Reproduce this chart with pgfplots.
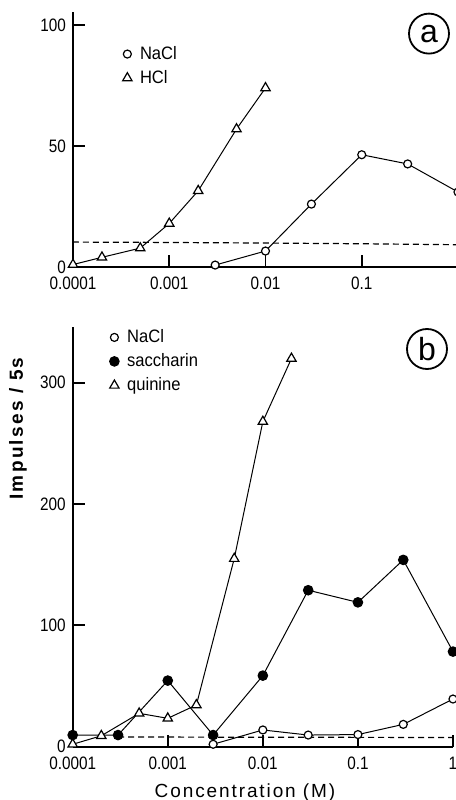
\documentclass[border=0pt]{standalone}
\usepackage{pgfplots}
\pgfplotsset{compat=1.18}
\usepackage{fontspec}
\setmainfont{Liberation Sans}
\newfontfamily\tickfont[FakeStretch=0.85]{Liberation Sans}
\newfontfamily\legfont[FakeStretch=0.92]{Liberation Sans}
\newfontfamily\xlabfont[LetterSpace=10]{Liberation Sans}
\newfontfamily\ylabfont[LetterSpace=12]{Liberation Sans}
\pgfplotsset{
  mynacl/.style={mark=*, mark size=2pt, mark options={fill=white, line width=0.6pt, solid}},
  mytri/.style={mark=triangle*, mark size=2.7pt, mark options={fill=white, line width=0.6pt, solid}},
  mysacc/.style={mark=*, mark size=2.4pt, mark options={fill=black, solid}},
  mybase/.style={dash pattern=on 3pt off 2pt, line width=0.6pt},
}
\begin{document}
\begin{tikzpicture}
% ---------- panel a ----------
\begin{semilogxaxis}[scale only axis, clip=false,
  at={(36.5pt,266.5pt)}, anchor=south west,
  width=192.5pt, height=127.5pt,
  xmin=1e-4, xmax=1, ymin=0, ymax=105.4,
  axis x line*=bottom, axis y line*=left,
  axis line style={line width=0.9pt},
  xtick={1e-4,1e-3,1e-2,1e-1,1},
  xticklabels={0.0001,0.001,0.01,0.1,{}},
  ytick={0,50,100},
  xminorticks=false,
  tick align=inside, major tick length=6pt,
  tick style={line width=0.9pt, black},
  tick label style={font=\tickfont\fontsize{9}{9}\selectfont},
  xticklabel style={yshift=-1.5pt},
  /pgf/number format/assume math mode=true,
  every axis plot/.append style={line width=0.5pt, black},
  legend image code/.code={\draw[#1, only marks] plot coordinates {(0pt,0pt)};},
  legend style={draw=none, fill=none, inner sep=0pt, row sep=2pt,
    font=\legfont\fontsize{9}{9}\selectfont,
    nodes={inner sep=1pt, text height=6.5pt, text depth=1.5pt},
    /tikz/every odd column/.append style={column sep=3pt},
    at={(axis description cs:0.128,0.788)}, anchor=west},
  legend cell align=left]
\addplot[mynacl] coordinates {(3e-3,0.8)(1e-2,6.6)(3e-2,26)(1e-1,46.4)(3e-1,42.6)(1,31)};
\addlegendentry{NaCl}
\addplot[mytri] coordinates {(1e-4,1)(2e-4,4)(5e-4,7.8)(1e-3,18)(2e-3,31.5)(5e-3,57)(1e-2,74)};
\addlegendentry{HCl}
\addplot[mybase, forget plot] coordinates {(1e-4,10.3)(5e-4,10.2)(1e-2,9.9)(1e-1,9.6)(1,9.2)};
\end{semilogxaxis}
% ---------- panel b ----------
\begin{semilogxaxis}[scale only axis, clip=false,
  at={(36.35pt,26.65pt)}, anchor=south west,
  width=190.15pt, height=209.85pt,
  xmin=1e-4, xmax=1, ymin=0, ymax=346,
  axis x line*=bottom, axis y line*=left,
  axis line style={line width=0.9pt},
  xtick={1e-4,1e-3,1e-2,1e-1,1},
  xticklabels={0.0001,0.001,0.01,0.1,1},
  ytick={0,100,200,300},
  xminorticks=false,
  tick align=inside, major tick length=6pt,
  tick style={line width=0.9pt, black},
  tick label style={font=\tickfont\fontsize{9}{9}\selectfont},
  xticklabel style={yshift=-1.5pt},
  /pgf/number format/assume math mode=true,
  every axis plot/.append style={line width=0.5pt, black},
  legend image code/.code={\draw[#1, only marks] plot coordinates {(0pt,0pt)};},
  legend style={draw=none, fill=none, inner sep=0pt, row sep=2pt,
    font=\legfont\fontsize{9}{9}\selectfont,
    nodes={inner sep=1pt, text height=6.5pt, text depth=1.5pt},
    /tikz/every odd column/.append style={column sep=3pt},
    at={(axis description cs:0.096,0.918)}, anchor=west},
  legend cell align=left]
\addplot[mynacl] coordinates {(3e-3,2)(1e-2,13.8)(3e-2,9.6)(1e-1,10)(3e-1,18.4)(1,39.3)};
\addlegendentry{NaCl}
\addplot[mysacc] coordinates {(1e-4,9.6)(3e-4,9.6)(1e-3,54.5)(3e-3,9.6)(1e-2,58.6)(3e-2,129)(1e-1,119)(3e-1,154)(1,78.4)};
\addlegendentry{saccharin}
\addplot[mytri] coordinates {(1e-4,2)(2e-4,9)(5e-4,27.5)(1e-3,23.4)(2e-3,34.4)(5e-3,155)(1e-2,268)(2e-2,320)};
\addlegendentry{quinine}
\addplot[mybase, forget plot] coordinates {(3e-4,8)(1e-2,7.8)(1,7.6)};
\end{semilogxaxis}
% labels
\node[draw, circle, minimum size=20pt, inner sep=0pt, line width=0.9pt,
  font=\fontsize{16}{16}\selectfont] at (214.5pt,383.2pt) {a};
\node[draw, circle, minimum size=20pt, inner sep=0pt, line width=0.9pt,
  font=\fontsize{16}{16}\selectfont] at (213.5pt,225.5pt) {b};
\node[rotate=90, font=\ylabfont\bfseries\fontsize{9.5}{9.5}\selectfont] at (9pt,185.75pt) {Impulses / 5s};
\node[anchor=base, font=\xlabfont\fontsize{9.5}{9.5}\selectfont] at (122.5pt,1.5pt) {Concentration (M)};
\pgfresetboundingbox
\useasboundingbox (0,0) rectangle (228pt,400pt);
\end{tikzpicture}
\end{document}
